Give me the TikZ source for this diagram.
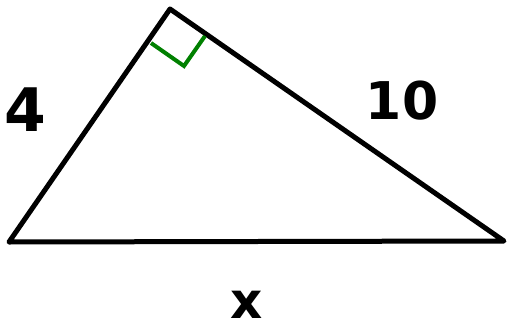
\documentclass[tikz,border=0pt]{standalone}
\usepackage{fontspec}
\setmainfont{DejaVu Sans}
\usetikzlibrary{calc}

\begin{document}
\begin{tikzpicture}[
  x=1pt, y=-1pt,
  side/.style={draw=black, line width=5pt, line cap=round, line join=round},
  rightmark/.style={draw=green!50!black, line width=4pt, line join=miter},
  sidelabel/.style={inner sep=0pt, font=\bfseries\fontsize{52}{60}\selectfont}
]
  \useasboundingbox (0,0) rectangle (507,335);
  \coordinate (left) at (9,242);
  \coordinate (top) at (170,9);
  \coordinate (right) at (504,241);
  \draw[side] (left) -- (top) -- (right) -- cycle;
  \coordinate (markA) at (151,43);
  \coordinate (markB) at (184,66);
  \coordinate (markC) at (205,36);
  \draw[rightmark] (markA) -- (markB) -- (markC);
  \node[sidelabel, font=\bfseries\fontsize{60}{70}\selectfont] (four) at (25,110) {4};
  \node[sidelabel] (ten) at (402,101) {10};
  \node[sidelabel, font=\bfseries\fontsize{50}{60}\selectfont] (base) at (247,305) {x};
\end{tikzpicture}
\end{document}
